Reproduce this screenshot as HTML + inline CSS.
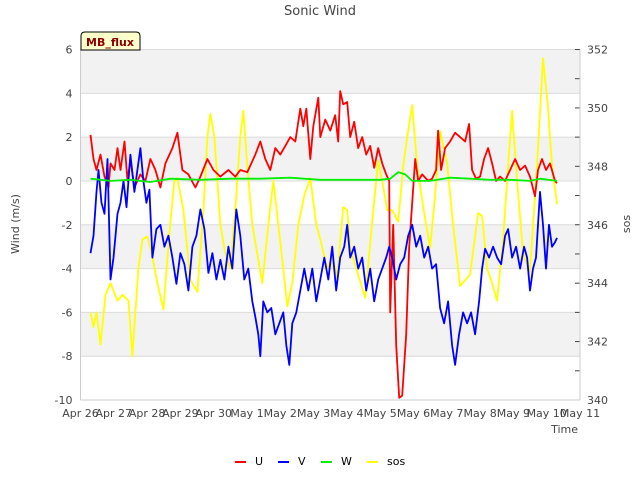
<!DOCTYPE html>
<html><head><meta charset="utf-8"><style>
body{margin:0;background:#fff;}
svg text{font-family:"DejaVu Sans","Liberation Sans",sans-serif;}
</style></head><body>
<svg id="chart" width="640" height="480" viewBox="0 0 640 480" xmlns="http://www.w3.org/2000/svg">
<g id="bands"></g>
<g id="grid"></g>
<g id="series"></g>
<g id="axes"></g>
<text x="320" y="15" text-anchor="middle" font-size="13" fill="#444">Sonic Wind</text>
<text transform="translate(19,224) rotate(-90)" text-anchor="middle" font-size="11" fill="#444">Wind (m/s)</text>
<text transform="translate(630,224) rotate(-90)" text-anchor="middle" font-size="11" fill="#444">sos</text>
<text x="578" y="433" text-anchor="end" font-size="11" fill="#444">Time</text>
<g>
<path d="M81,50 L81,36 Q81,32 85,32 L136,32 Q140,32 140,36 L140,50 Z" fill="#ffffcc" stroke="#000" stroke-width="1"/>
<text x="110" y="46" text-anchor="middle" font-size="11" font-weight="bold" fill="#8b0000">MB_flux</text>
</g>
<g id="legend"></g>
</svg>
<script>
const uT=[0.3,0.39,0.48,0.6,0.72,0.84,0.9,1.02,1.11,1.2,1.32,1.41,1.5,1.62,1.8,1.95,2.1,2.25,2.4,2.55,2.76,2.91,3.06,3.24,3.45,3.6,3.81,3.99,4.2,4.44,4.65,4.8,5.01,5.25,5.4,5.55,5.7,5.85,6.0,6.15,6.3,6.45,6.6,6.69,6.78,6.9,6.99,7.14,7.2,7.35,7.5,7.65,7.74,7.8,7.89,8.01,8.1,8.22,8.34,8.46,8.58,8.7,8.82,8.94,9.06,9.18,9.27,9.3,9.39,9.48,9.57,9.66,9.78,9.87,9.96,10.05,10.14,10.26,10.44,10.56,10.68,10.74,10.83,10.95,11.1,11.25,11.4,11.55,11.67,11.76,11.88,12.0,12.12,12.24,12.36,12.48,12.6,12.75,12.9,13.05,13.2,13.35,13.5,13.65,13.74,13.86,13.98,14.1,14.25,14.31];
const uV=[2.1,1.0,0.5,1.2,0.2,-0.3,0.8,0.5,1.5,0.5,1.8,0,1.0,-0.3,0.3,0,1.0,0.5,-0.3,0.8,1.5,2.2,0.5,0.3,-0.3,0.2,1.0,0.5,0.2,0.5,0.2,0.5,0.4,1.2,1.8,1.0,0.5,1.5,1.2,1.6,2.0,1.8,3.3,2.5,3.3,1.0,2.5,3.8,2.0,2.8,2.3,3.0,1.8,4.1,3.5,3.6,2.0,2.7,1.5,2.0,1.2,1.6,0.6,1.5,0.8,0.3,0.0,-6.0,-2.0,-7.5,-9.9,-9.8,-7.0,-3.0,-1.0,1.0,0,0.3,0,0.1,0.5,2.3,0.5,1.5,1.8,2.2,2.0,1.8,2.6,0.5,0.1,0.2,1.0,1.5,0.8,0,0.2,0,0.5,1.0,0.5,0.7,0.2,-0.7,0.5,1.0,0.5,0.8,0,-0.1];
const vT=[0.3,0.39,0.48,0.54,0.63,0.72,0.81,0.9,0.99,1.11,1.2,1.29,1.38,1.5,1.62,1.71,1.8,1.89,1.98,2.07,2.16,2.28,2.4,2.52,2.64,2.76,2.88,3.0,3.12,3.24,3.36,3.48,3.6,3.72,3.84,3.96,4.08,4.2,4.32,4.44,4.56,4.68,4.8,4.92,5.04,5.16,5.25,5.34,5.4,5.49,5.61,5.73,5.85,5.97,6.09,6.18,6.27,6.36,6.48,6.6,6.72,6.84,6.96,7.08,7.2,7.32,7.44,7.56,7.68,7.8,7.92,8.01,8.1,8.22,8.34,8.46,8.58,8.7,8.82,8.94,9.06,9.18,9.27,9.36,9.48,9.6,9.72,9.84,9.96,10.08,10.2,10.32,10.44,10.56,10.68,10.8,10.92,11.04,11.16,11.25,11.37,11.49,11.61,11.73,11.85,11.97,12.06,12.15,12.27,12.39,12.51,12.63,12.75,12.84,12.96,13.08,13.2,13.32,13.41,13.5,13.59,13.68,13.8,13.89,13.98,14.07,14.16,14.25,14.31];
const vV=[-3.3,-2.5,-0.5,0.5,-1.0,-1.5,1.0,-4.5,-3.5,-1.5,-1.0,0,-1.2,1.2,-0.5,0.5,1.5,0,-1.0,-0.4,-3.5,-2.2,-2.0,-3.0,-2.5,-3.5,-4.7,-3.3,-3.8,-5.0,-3.0,-2.5,-1.3,-2.2,-4.2,-3.3,-4.5,-3.6,-4.5,-3.0,-4.0,-1.3,-2.5,-4.5,-4.0,-5.5,-6.2,-7.0,-8.0,-5.5,-6.0,-5.8,-7.0,-6.5,-6.0,-7.5,-8.4,-6.5,-6.0,-5.0,-4.0,-5.0,-4.0,-5.5,-4.5,-3.5,-4.5,-3.0,-5.0,-3.5,-3.0,-2.0,-3.5,-3.0,-4.0,-3.5,-5.0,-4.0,-5.5,-4.5,-4.0,-3.5,-3.0,-3.5,-4.5,-3.8,-3.5,-2.5,-2.0,-3.0,-2.5,-3.5,-3.0,-4.0,-3.8,-5.8,-6.5,-5.5,-7.5,-8.4,-7.0,-6.0,-6.5,-6.0,-7.0,-5.5,-4.0,-3.1,-3.5,-3.0,-3.5,-3.8,-2.5,-2.2,-3.5,-3.0,-4.0,-3.0,-3.5,-5.0,-4.0,-3.5,-0.5,-2.0,-4.0,-2.0,-3.0,-2.8,-2.6];
const wT=[0.3,0.9,1.5,2.1,2.7,3.6,4.5,5.4,6.3,7.2,8.1,9.0,9.3,9.54,9.75,9.96,10.5,11.1,11.7,12.3,12.9,13.5,13.8,14.31];
const wV=[0.1,0.0,0.05,-0.05,0.1,0.05,0.1,0.1,0.15,0.05,0.05,0.05,0.1,0.4,0.3,0.0,0.0,0.15,0.1,0.05,0.05,0.0,0.1,0.0];
const sT=[0.3,0.39,0.48,0.6,0.75,0.9,1.11,1.26,1.44,1.56,1.74,1.86,2.01,2.16,2.31,2.49,2.7,2.82,2.91,3.09,3.3,3.51,3.69,3.81,3.9,4.02,4.2,4.35,4.5,4.68,4.8,4.89,5.01,5.16,5.31,5.46,5.64,5.79,5.94,6.09,6.21,6.36,6.54,6.72,6.9,7.08,7.2,7.41,7.56,7.71,7.89,8.01,8.1,8.31,8.55,8.76,8.94,9.06,9.21,9.36,9.54,9.69,9.81,9.96,10.11,10.29,10.5,10.65,10.8,11.01,11.19,11.4,11.7,11.94,12.06,12.21,12.36,12.51,12.69,12.84,12.96,13.11,13.29,13.5,13.71,13.89,14.04,14.16,14.31];
const sV=[343.0,342.5,343.0,341.9,343.6,344.0,343.4,343.6,343.4,341.5,344.5,345.5,345.6,344.9,344.0,343.1,346.1,347.5,347.6,346.5,344.1,343.7,346.5,349.0,349.8,349.0,346.0,345.0,344.5,347.0,349.0,349.9,348.0,346.0,345.0,344.0,346.0,347.5,346.0,344.5,343.2,344.0,346.0,347.0,347.6,346.0,345.5,344.5,344.9,344.2,346.6,346.5,345.2,344.4,343.5,346.1,348.2,347.5,346.5,346.5,346.1,348.0,349.0,350.1,348.0,346.6,345.2,347.0,349.2,348.1,346.0,343.9,344.3,346.4,346.3,344.5,344.0,343.4,345.5,348.0,349.9,347.5,345.0,344.4,348.0,351.7,350.0,348.0,346.7];
const yTicks=[6,4,2,0,-2,-4,-6,-8,-10];
const y2Ticks=[352,350,348,346,344,342,340];
const xTickLabels=["Apr 26","Apr 27","Apr 28","Apr 29","Apr 30","May 1","May 2","May 3","May 4","May 5","May 6","May 7","May 8","May 9","May 10","May 11"];

const L=80.5,R=580,T=49.5,B=400;
const xs=t=>L+(R-L)*t/15;
const ys=v=>T+(B-T)*(6-v)/16;
const ys2=s=>T+(B-T)*(352-s)/12;
const NS="http://www.w3.org/2000/svg";
function mk(tag,attrs,parent){const e=document.createElementNS(NS,tag);for(const k in attrs)e.setAttribute(k,attrs[k]);parent.appendChild(e);return e;}
const bands=document.getElementById('bands'),grid=document.getElementById('grid'),axes=document.getElementById('axes'),series=document.getElementById('series'),legend=document.getElementById('legend');
mk('rect',{x:L,y:T,width:R-L,height:B-T,fill:'#fff'},bands);
for(let i=0;i<yTicks.length-1;i+=2){
  const r=mk('rect',{x:L,y:ys(yTicks[i]),width:R-L,height:ys(yTicks[i+1])-ys(yTicks[i]),fill:'#f2f2f2'},bands);
  
  
}
yTicks.forEach(v=>{
  const g=mk('line',{x1:L,x2:R,y1:ys(v),y2:ys(v),stroke:'#dcdcdc','stroke-width':1},grid);
  
  
  const t=mk('text',{x:L-8,y:ys(v)+4,'text-anchor':'end','font-size':11,fill:'#444'},axes);
  t.textContent=v;
  
  
});
y2Ticks.forEach(s=>{
  mk('line',{x1:R-5,x2:R,y1:ys2(s),y2:ys2(s),stroke:'#444'},axes);
  if(s>y2Ticks[y2Ticks.length-1]) mk('line',{x1:R-5,x2:R,y1:ys2(s-1),y2:ys2(s-1),stroke:'#444'},axes);
  const t=mk('text',{x:R+7,y:ys2(s)+4,'font-size':11,fill:'#444'},axes);
  t.textContent=s;
  
  
});
xTickLabels.forEach((lab,i)=>{
  const t=mk('text',{x:xs(i),y:B+17,'text-anchor':'middle','font-size':11,fill:'#444'},axes);
  t.textContent=lab;
  
  
});
mk('line',{x1:L,x2:L,y1:T,y2:B,stroke:'#ccc'},axes);
mk('line',{x1:R,x2:R,y1:T,y2:B,stroke:'#ccc'},axes);
mk('line',{x1:L,x2:R,y1:B,y2:B,stroke:'#ccc'},axes);
function line(ts,vs,yf,color,name){
  const d=ts.map((t,i)=>(i?'L':'M')+xs(t).toFixed(1)+','+yf(vs[i]).toFixed(1)).join(' ');
  const p=mk('path',{d:d,fill:'none',stroke:color,'stroke-width':1.8,'stroke-linejoin':'round'},series);
  
  
}
line(sT,sV,ys2,'#ffff00','sos-line');
line(uT,uV,ys,'#ff0000','u-line');
line(vT,vV,ys,'#0000ff','v-line');
line(wT,wV,ys,'#00ee00','w-line');
const leg=[["U","#ff0000",235],["V","#0000ff",278],["W","#00ee00",321],["sos","#ffff00",367]];
leg.forEach(([n,c,x])=>{
  const g=mk('g',{},legend);
  
  
  mk('line',{x1:x,x2:x+11,y1:462,y2:462,stroke:c,'stroke-width':2},g);
  const t=mk('text',{x:x+20,y:465,'font-size':11,fill:'#000'},g);
  t.textContent=n;
});
</script>
</body></html>
